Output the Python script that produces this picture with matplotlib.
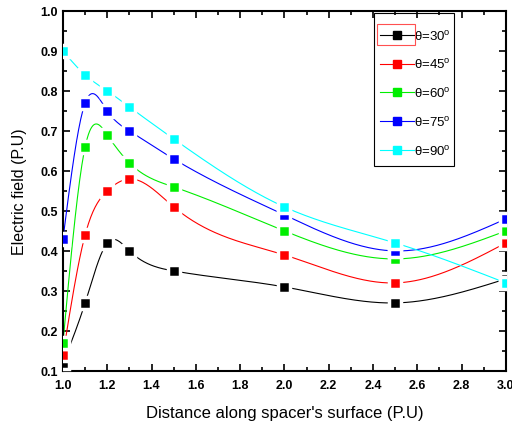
import numpy as np
import matplotlib
matplotlib.use('Agg')
import matplotlib.pyplot as plt
import matplotlib.ticker as ticker
from matplotlib.patches import Rectangle

plt.rcParams['font.family'] = ['Liberation Sans', 'DejaVu Sans']
plt.rcParams['mathtext.fontset'] = 'custom'
plt.rcParams['mathtext.rm'] = 'Liberation Sans'

distance = [1.0, 1.1, 1.2, 1.3, 1.5, 2.0, 2.5, 3.0]
field_30 = [0.12, 0.27, 0.42, 0.40, 0.35, 0.31, 0.27, 0.33]
field_45 = [0.14, 0.44, 0.55, 0.58, 0.51, 0.39, 0.32, 0.42]
field_60 = [0.17, 0.66, 0.69, 0.62, 0.56, 0.45, 0.38, 0.45]
field_75 = [0.43, 0.77, 0.75, 0.70, 0.63, 0.49, 0.40, 0.48]
field_90 = [0.90, 0.84, 0.80, 0.76, 0.68, 0.51, 0.42, 0.32]
labels = [r'θ=30$^{\mathrm{o}}$', r'θ=45$^{\mathrm{o}}$', r'θ=60$^{\mathrm{o}}$',
          r'θ=75$^{\mathrm{o}}$', r'θ=90$^{\mathrm{o}}$']
colors = ['black', 'red', '#00ee00', 'blue', 'cyan']


def natural_spline(x, y, n=400):
  # smooth curve through the points (drawing only)
  x = np.asarray(x, float); y = np.asarray(y, float)
  k = len(x)
  h = np.diff(x)
  A = np.zeros((k, k)); b = np.zeros(k)
  A[0, 0] = 1; A[-1, -1] = 1
  for i in range(1, k - 1):
    A[i, i - 1] = h[i - 1]
    A[i, i] = 2 * (h[i - 1] + h[i])
    A[i, i + 1] = h[i]
    b[i] = 6 * ((y[i + 1] - y[i]) / h[i] - (y[i] - y[i - 1]) / h[i - 1])
  m = np.linalg.solve(A, b)
  xs = np.linspace(x[0], x[-1], n)
  idx = np.clip(np.searchsorted(x, xs) - 1, 0, k - 2)
  x0, x1 = x[idx], x[idx + 1]
  hh = x1 - x0
  t0 = x1 - xs; t1 = xs - x0
  ys = (m[idx] * t0**3 + m[idx + 1] * t1**3) / (6 * hh) \
    + (y[idx] / hh - m[idx] * hh / 6) * t0 + (y[idx + 1] / hh - m[idx + 1] * hh / 6) * t1
  return xs, ys


fig = plt.figure(figsize=(5.12, 4.27), dpi=100)
ax = fig.add_axes([0.123, 0.129, 0.865, 0.843])

for vals, c, lab in zip([field_30, field_45, field_60, field_75, field_90], colors, labels):
  xs, ys = natural_spline(distance, vals)
  ax.plot(xs, ys, color=c, lw=0.8, zorder=2)
  ax.plot(distance, vals, ls='none', marker='s', ms=8.5, mfc=c, mec='white', mew=2.5, zorder=3)
  ax.plot([], [], color=c, lw=0.8, marker='s', ms=5.5, mfc=c, mec=c, label=lab)

ax.set_xlim(1.0, 3.0)
ax.set_ylim(0.1, 1.0)
ax.xaxis.set_major_locator(ticker.MultipleLocator(0.2))
ax.xaxis.set_minor_locator(ticker.MultipleLocator(0.1))
ax.yaxis.set_major_locator(ticker.MultipleLocator(0.1))
ax.yaxis.set_minor_locator(ticker.MultipleLocator(0.05))
ax.xaxis.set_major_formatter(ticker.FormatStrFormatter('%.1f'))
ax.yaxis.set_major_formatter(ticker.FormatStrFormatter('%.1f'))
ax.tick_params(which='both', direction='in', top=True, right=True, width=1.2)
ax.tick_params(which='major', length=5, labelsize=9)
ax.tick_params(which='minor', length=3)
ax.tick_params(axis='x', pad=6)
for lbl in ax.get_xticklabels() + ax.get_yticklabels():
  lbl.set_fontweight('bold')
for s in ax.spines.values():
  s.set_linewidth(1.5)

ax.set_xlabel("Distance along spacer's surface (P.U)", fontsize=12, labelpad=10)
ax.set_ylabel('Electric field (P.U)', fontsize=11.5, labelpad=10)

leg = ax.legend(loc='upper left', bbox_to_anchor=(0.712, 0.955), fontsize=9.5, frameon=False,
                handlelength=2.6, handletextpad=0.0, labelspacing=1.12, borderpad=0.1,
                borderaxespad=0.0)

fig.canvas.draw()
inv = fig.transFigure.inverted()
hb = leg.get_window_extent()
t0 = leg.get_texts()[0].get_window_extent()
# legend frame, wider vertical padding than horizontal
(fx0, fy0) = inv.transform((hb.x0 - 4, hb.y0 - 7))
(fx1, fy1) = inv.transform((hb.x1 + 2, hb.y1 + 14))
fig.add_artist(Rectangle((fx0, fy0), fx1 - fx0, fy1 - fy0, transform=fig.transFigure,
                         fill=False, edgecolor='black', lw=0.8, zorder=5))
(x0, y0) = inv.transform((hb.x0 - 1, t0.y0 - 3))
(x1, y1) = inv.transform((t0.x0 + 1, t0.y1 + 4))
fig.add_artist(Rectangle((x0, y0), x1 - x0, y1 - y0, transform=fig.transFigure,
                         fill=False, edgecolor='#ff5050', lw=0.8, zorder=5))

fig.savefig('out.png', dpi=100)
